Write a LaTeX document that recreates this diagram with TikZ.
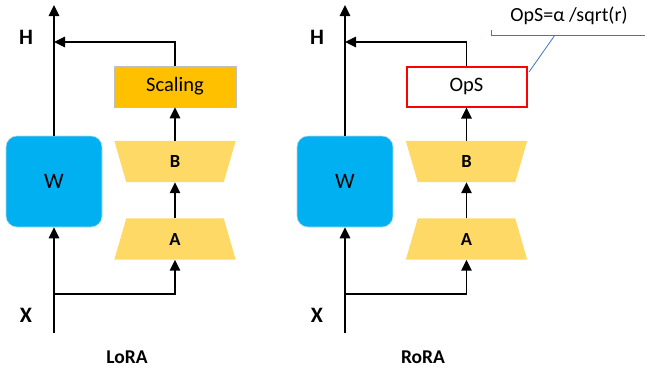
\documentclass[tikz,border=0pt]{standalone}
\usepackage{fontspec}
\setmainfont{Carlito}
\usetikzlibrary{arrows.meta,backgrounds}
\definecolor{wblue}{HTML}{00B0F0}
\definecolor{scal}{HTML}{FFC000}
\definecolor{trap}{HTML}{FFD966}
\definecolor{callblue}{HTML}{4472C4}
\tikzset{
  conn/.style={line width=1.5pt,black},
  arr/.style={conn,-{Triangle[length=11pt,width=10.5pt]}},
  wbox/.style={draw=wblue!60!gray!40,line width=0.6pt,fill=wblue,rounded corners=11pt,minimum width=96pt,minimum height=91pt,inner sep=0pt,font=\fontsize{22}{24}\selectfont},
  scalebox/.style={draw=black!25,line width=0.8pt,fill=scal,minimum width=122pt,minimum height=41pt,inner sep=0pt,font=\fontsize{20.5}{22}\selectfont},
  opsbox/.style={draw=red,line width=2pt,fill=white,minimum width=120pt,minimum height=40pt,inner sep=0pt,font=\fontsize{20.5}{22}\selectfont},
  trapnode/.style={minimum width=97pt,minimum height=41pt,inner sep=0pt,font=\bfseries\fontsize{18.5}{20}\selectfont},
  lbl/.style={font=\bfseries\fontsize{22}{24}\selectfont,inner sep=0pt},
  captext/.style={font=\bfseries\fontsize{19.5}{21}\selectfont,inner sep=0pt},
  calltext/.style={font=\fontsize{20}{22}\selectfont,inner sep=0pt},
  callline/.style={draw=callblue,line width=0.8pt}
}
\newcommand{\bwide}[1]{% top wide trapezoid
  \fill[trap] ([xshift=-12pt]#1.north west) -- ([xshift=12pt]#1.north east) -- (#1.south east) -- (#1.south west) -- cycle;}
\newcommand{\awide}[1]{% bottom wide trapezoid
  \fill[trap] (#1.north west) -- (#1.north east) -- ([xshift=12pt]#1.south east) -- ([xshift=-12pt]#1.south west) -- cycle;}
\begin{document}
\begin{tikzpicture}[x=1pt,y=-1pt]
\useasboundingbox (0,0) rectangle (645,373);
% ---------- LoRA ----------
\node[wbox] (W1) at (54,181.5) {W};
\node[scalebox] (S1) at (175,86.5) {Scaling};
\node[trapnode] (B1) at (175,161.5) {B};
\node[trapnode] (A1) at (175,239) {A};
\begin{scope}[on background layer]
  \bwide{B1}
  \awide{A1}
\end{scope}
\coordinate (X1) at (54,333);
\coordinate (T1) at (54,5);
\coordinate (J1) at (54,294);
\coordinate (K1) at (54,42);
\node[lbl] (H1) at (26,37) {H};
\node[lbl] (XL1) at (26,315) {X};
\node[captext] (N1) at (127,357) {LoRA};
\draw[arr] (X1) -- (W1.south);
\draw[arr] (W1.north) -- (T1);
\draw[arr] (J1) -| (A1.south);
\draw[arr] (A1.north) -- (B1.south);
\draw[arr] (B1.north) -- (S1.south);
\draw[arr] (S1.north) |- (K1);
% ---------- RoRA ----------
\node[wbox] (W2) at (345,181.5) {W};
\node[opsbox] (S2) at (466.5,86.5) {OpS};
\node[trapnode] (B2) at (466.5,161.5) {B};
\node[trapnode] (A2) at (466.5,239) {A};
\begin{scope}[on background layer]
  \bwide{B2}
  \awide{A2}
\end{scope}
\coordinate (X2) at (345,333);
\coordinate (T2) at (345,5);
\coordinate (J2) at (345,294);
\coordinate (K2) at (345,42);
\node[lbl] (H2) at (317,37) {H};
\node[lbl] (XL2) at (317,315) {X};
\node[captext] (N2) at (423,357) {RoRA};
\draw[arr] (X2) -- (W2.south);
\draw[arr] (W2.north) -- (T2);
\draw[arr] (J2) -| (A2.south);
\draw[arr] (A2.north) -- (B2.south);
\draw[arr] (B2.north) -- (S2.south);
\draw[arr] (S2.north) |- (K2);
% ---------- callout ----------
\node[calltext] (C) at (569,16) {OpS=α /sqrt(r)};
\coordinate (CL) at (491,30);
\coordinate (CR) at (645,35);
\coordinate (CM) at (555,35);
\coordinate (CP) at (529,72);
\draw[callline] (CL) |- (CR);
\draw[callline] (CM) -- (CP);
\end{tikzpicture}
\end{document}
